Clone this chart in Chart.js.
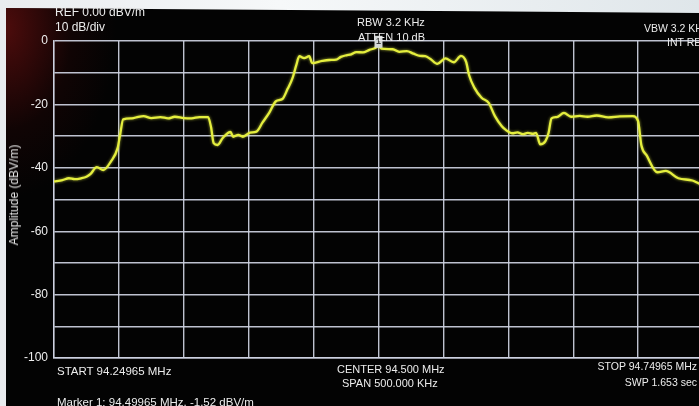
<!DOCTYPE html>
<html>
<head>
<meta charset="utf-8">
<script src="https://cdn.jsdelivr.net/npm/chart.js@4.4.1/dist/chart.umd.min.js"></script>
<style>
  html, body { margin: 0; padding: 0; }
  body {
    width: 699px; height: 406px; overflow: hidden; position: relative;
    background: linear-gradient(90deg, #e9ecef 0, #f6f8f9 40%, #dfe6ea 100%);
    font-family: "Liberation Sans", Arial, sans-serif;
  }
  #screen {
    position: absolute; left: 6px; top: 8px; width: 706px; height: 398px;
    background:
      radial-gradient(ellipse 110px 170px at 0px 20px, rgba(95,14,14,0.8), rgba(40,6,6,0.35) 60%, rgba(0,0,0,0) 100%),
      #030303;
    clip-path: polygon(0 0, 100% 5px, 100% 100%, 0 100%);
  }
  #chart { position: absolute; left: 0; top: 0; }
  .txt {
    position: absolute; color: #ececec; white-space: nowrap;
    font-size: 11.5px; line-height: 14px;
  }
  .big { font-size: 12px; }
  .mid { font-size: 11px; }
  .far { font-size: 10.5px; }
  .r { text-align: right; }
  #ytitle {
    position: absolute; left: 14px; top: 195px; color: #e6e6e6;
    font-size: 12px; line-height: 14px; white-space: nowrap;
    transform: translate(-50%, -50%) rotate(-90deg);
  }
</style>
</head>
<body>
<div id="screen"><canvas id="chart" width="706" height="398"></canvas></div>

<div class="txt big" style="left:55px; top:5px;">REF 0.00 dBV/m</div>
<div class="txt big" style="left:55px; top:20px;">10 dB/div</div>
<div class="txt mid" style="left:357px; top:15px;">RBW 3.2 KHz</div>
<div class="txt mid" style="left:358px; top:30px;">ATTEN 10 dB</div>
<div class="txt far" style="left:644px; top:21px;">VBW 3.2 KHz</div>
<div class="txt far" style="left:667px; top:35px;">INT REF</div>
<div class="txt" style="left:57px; top:364px;">START 94.24965 MHz</div>
<div class="txt mid" style="left:337px; top:362px;">CENTER 94.500 MHz</div>
<div class="txt mid" style="left:342px; top:376px;">SPAN 500.000 KHz</div>
<div class="txt far r" style="right:2px; top:359px;">STOP 94.74965 MHz</div>
<div class="txt far r" style="right:2px; top:375px;">SWP 1.653 sec</div>
<div class="txt" style="left:57px; top:395px;">Marker 1: 94.49965 MHz, -1.52 dBV/m</div>
<div id="ytitle">Amplitude (dBV/m)</div>

<script>
// Trace: offset from START (kHz) and level (dBV/m)
const offsetKHz = [
  0, 6.5, 11.5, 16, 20.9, 25, 28, 33, 38, 44, 49, 51, 53.3, 60, 65, 69, 75, 82, 88, 93,
  100, 106, 112, 118.7, 121, 123, 126, 130, 136, 138, 142, 145.5, 151, 156, 160.7, 166, 171, 176, 180, 183.6,
  186.6, 189, 192.7, 196.6, 199, 206.6, 212, 217.4, 221, 225.2, 229, 232.9, 238, 243, 247, 250, 252.3, 261, 266, 271.9,
  277, 282, 286, 289.8, 295.3, 301.6, 308, 313.5, 317.5, 319.8, 323.8, 329.4, 334.9, 339.7, 345, 347.6, 353.2, 357, 361, 365,
  369, 371.4, 374.6, 378.6, 381, 383.3, 387.3, 392.9, 398.4, 405, 411, 418, 427, 436, 446, 450, 452.5, 456.6, 464.8, 471.3,
  481, 491.8, 496.7, 500
];
const levelDb = [
  -44.3, -43.9, -43.3, -43.6, -43.3, -42.8, -42.0, -39.8, -40.7, -37.9, -33.8, -29.4, -24.7, -24.4, -23.9, -23.7, -24.3, -24.0, -24.4, -23.9,
  -24.3, -24.4, -24.0, -24.0, -27.2, -32.2, -32.8, -30.6, -28.7, -30.2, -29.6, -30.2, -28.9, -28.6, -25.7, -22.5, -19.0, -18.3, -15.1, -11.9,
  -7.7, -4.8, -5.4, -4.8, -7.0, -6.3, -6.0, -5.9, -5.0, -4.5, -4.2, -3.5, -3.6, -2.8, -2.3, -1.6, -2.4, -2.6, -3.4, -3.2,
  -4.0, -4.7, -4.8, -5.6, -7.2, -5.5, -6.7, -4.7, -6.6, -10.8, -14.7, -17.9, -19.5, -23.7, -26.9, -27.9, -29.1, -28.8, -29.4, -29.0,
  -29.3, -29.0, -32.6, -31.6, -29.0, -24.4, -24.0, -22.7, -23.9, -23.6, -23.9, -23.5, -24.1, -23.8, -23.7, -25.3, -32.9, -36.1, -41.4, -41.0,
  -43.3, -44.0, -44.9, -45.3
];
const yTickLabels = ["0", "-20", "-40", "-60", "-80", "-100"];
const markerKHz = [250];
const markerDb = [-1.52];
const markerNames = ["1"];

const gridColor = "rgba(206,210,226,0.92)";

// soft phosphor glow on the trace
const glowPlugin = {
  id: "glow",
  beforeDatasetDraw(chart) {
    const ctx = chart.ctx;
    ctx.save();
    ctx.shadowColor = "rgba(230,240,70,0.7)";
    ctx.shadowBlur = 3;
  },
  afterDatasetDraw(chart) {
    chart.ctx.restore();
  }
};

// Marker flag drawn on top of the trace
const markerPlugin = {
  id: "markers",
  afterDatasetsDraw(chart) {
    const { ctx, scales } = chart;
    markerKHz.forEach((f, i) => {
      const px = scales.x.getPixelForValue(f);
      const py = scales.y.getPixelForValue(markerDb[i]);
      ctx.save();
      ctx.fillStyle = "#d4d8d8";
      ctx.fillRect(px - 4, py - 10, 8, 12);
      ctx.fillStyle = "#3a3a3a";
      ctx.font = "bold 9px 'Liberation Sans', Arial";
      ctx.textAlign = "center";
      ctx.textBaseline = "middle";
      ctx.fillText(markerNames[i], px, py - 4);
      ctx.restore();
    });
  }
};

new Chart(document.getElementById("chart").getContext("2d"), {
  type: "line",
  data: {
    datasets: [{
      data: offsetKHz.map((x, i) => ({ x: x, y: levelDb[i] })),
      borderColor: "#e4ee3e",
      borderWidth: 2.3,
      pointRadius: 0,
      fill: false,
      cubicInterpolationMode: "monotone"
    }]
  },
  options: {
    responsive: false,
    animation: false,
    layout: { padding: { left: 0, top: 33, right: 9, bottom: 48 } },
    plugins: { legend: { display: false }, tooltip: { enabled: false } },
    scales: {
      x: {
        type: "linear", min: 0, max: 500,
        ticks: { display: false, stepSize: 50 },
        grid: { color: gridColor, lineWidth: 1.4, drawTicks: false },
        border: { color: gridColor, width: 1.4 },
        afterFit: (s) => { s.height = 0; }
      },
      y: {
        min: -100, max: 0,
        ticks: {
          stepSize: 10, padding: 6, color: "#eeeeee",
          font: { family: "'Liberation Sans', Arial", size: 12 },
          callback: (v) => (v % 20 === 0 ? yTickLabels[-v / 20] : "")
        },
        grid: { color: gridColor, lineWidth: 1.4, drawTicks: false },
        border: { color: gridColor, width: 1.4 },
        afterFit: (s) => { s.width = 48; }
      }
    }
  },
  plugins: [glowPlugin, markerPlugin]
});
</script>
</body>
</html>
